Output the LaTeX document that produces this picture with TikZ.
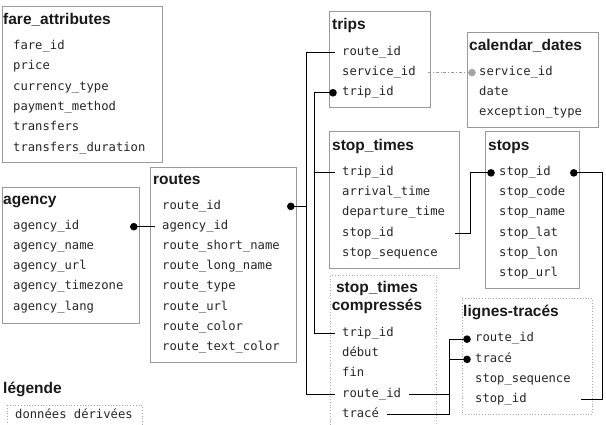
\documentclass[tikz,border=0pt]{standalone}
\usepackage{fontspec}
\setmainfont{Liberation Sans}
\newfontfamily\fieldfont{DejaVu Sans Mono}
\begin{document}
\begin{tikzpicture}[x=1pt,y=-1pt,
  tbl/.style={draw=black!40, line width=0.8pt, anchor=north west, inner sep=0pt},
  derived/.style={draw=black!35, line width=0.8pt, dotted, anchor=north west, inner sep=0pt},
  ttl/.style={anchor=base west, inner sep=0pt, font=\fontsize{15.5}{17}\selectfont\bfseries, text=black!90},
  fld/.style={anchor=base west, inner sep=0pt, font=\fieldfont\fontsize{12.2}{14}\selectfont, text=black!85},
  link/.style={draw=black, line width=0.9pt},
  soft/.style={draw=black!40, line width=0.8pt, dash dot},
  key/.style={fill=black, circle, inner sep=0pt, minimum size=7.6pt},
  softkey/.style={fill=black!35, circle, inner sep=0pt, minimum size=7.6pt}]
\useasboundingbox (0,0) rectangle (606,424);
\begin{scope}
\clip (0,0) rectangle (606,424);

% ---------- tables ----------
\node[tbl, minimum width=160pt, minimum height=156pt] (fare) at (2,6) {};
\node[tbl, minimum width=137pt, minimum height=136pt] (agency) at (2,187) {};
\node[tbl, minimum width=146pt, minimum height=195pt] (routes) at (150,167) {};
\node[tbl, minimum width=101pt, minimum height=96pt] (trips) at (329,11) {};
\node[tbl, minimum width=131pt, minimum height=95pt] (cal) at (467,32) {};
\node[tbl, minimum width=130pt, minimum height=137pt] (st) at (329,131) {};
\node[tbl, minimum width=94pt, minimum height=157pt] (stops) at (485,131) {};
\node[derived, minimum width=106pt, minimum height=160pt] (stc) at (330,275) {};
\node[derived, minimum width=130pt, minimum height=116pt] (lt) at (462,298) {};
\node[derived, minimum width=135pt, minimum height=30pt] (legbox) at (7,405) {};

% ---------- titles ----------
\node[ttl] (fare-t) at (3,24) {fare\_attributes};
\node[ttl] (agency-t) at (3,204) {agency};
\node[ttl] (routes-t) at (153,184) {routes};
\node[ttl] (trips-t) at (332,29) {trips};
\node[ttl] (cal-t) at (469,50) {calendar\_dates};
\node[ttl] (st-t) at (332,150) {stop\_times};
\node[ttl] (stops-t) at (488,150) {stops};
\node[ttl, anchor=base] (stc-t1) at (377,292.5) {stop\_times};
\node[ttl, anchor=base] (stc-t2) at (377,310.7) {compressés};
\node[ttl] (lt-t) at (463,316) {lignes-tracés};
\node[ttl] (leg-t) at (3,393) {légende};

% ---------- fields ----------
\node[fld] (fa1) at (13,49.5) {fare\_id};
\node[fld] (fa2) at (13,69.8) {price};
\node[fld] (fa3) at (13,90.1) {currency\_type};
\node[fld] (fa4) at (13,110.4) {payment\_method};
\node[fld] (fa5) at (13,130.7) {transfers};
\node[fld] (fa6) at (13,151) {transfers\_duration};

\node[fld] (ag1) at (13,229.3) {agency\_id};
\node[fld] (ag2) at (13,249.5) {agency\_name};
\node[fld] (ag3) at (13,269.7) {agency\_url};
\node[fld] (ag4) at (13,289.9) {agency\_timezone};
\node[fld] (ag5) at (13,310.1) {agency\_lang};

\node[fld] (ro1) at (162,209) {route\_id};
\node[fld] (ro2) at (162,229.3) {agency\_id};
\node[fld] (ro3) at (162,249.5) {route\_short\_name};
\node[fld] (ro4) at (162,269.7) {route\_long\_name};
\node[fld] (ro5) at (162,289.9) {route\_type};
\node[fld] (ro6) at (162,310.1) {route\_url};
\node[fld] (ro7) at (162,330.3) {route\_color};
\node[fld] (ro8) at (162,350.5) {route\_text\_color};

\node[fld] (tr1) at (342,55) {route\_id};
\node[fld] (tr2) at (342,75.2) {service\_id};
\node[fld] (tr3) at (342,95.4) {trip\_id};

\node[fld] (ca1) at (479,75.2) {service\_id};
\node[fld] (ca2) at (479,95.4) {date};
\node[fld] (ca3) at (479,115.6) {exception\_type};

\node[fld] (st1) at (342,175.5) {trip\_id};
\node[fld] (st2) at (342,195.7) {arrival\_time};
\node[fld] (st3) at (342,215.9) {departure\_time};
\node[fld] (st4) at (342,236.1) {stop\_id};
\node[fld] (st5) at (342,256.3) {stop\_sequence};

\node[fld] (sp1) at (499,175.5) {stop\_id};
\node[fld] (sp2) at (499,195.7) {stop\_code};
\node[fld] (sp3) at (499,215.9) {stop\_name};
\node[fld] (sp4) at (499,236.1) {stop\_lat};
\node[fld] (sp5) at (499,256.3) {stop\_lon};
\node[fld] (sp6) at (499,276.5) {stop\_url};

\node[fld] (sc1) at (342,336.5) {trip\_id};
\node[fld] (sc2) at (342,356.7) {début};
\node[fld] (sc3) at (342,376.9) {fin};
\node[fld] (sc4) at (342,397.1) {route\_id};
\node[fld] (sc5) at (342,417.3) {tracé};

\node[fld] (lt1) at (475,341.8) {route\_id};
\node[fld] (lt2) at (475,362) {tracé};
\node[fld] (lt3) at (475,382.2) {stop\_sequence};
\node[fld] (lt4) at (475,402.4) {stop\_id};

\node[fld] (leg1) at (15,418) {données dérivées};

% ---------- bus lines ----------
\coordinate (busR) at (306,0);
\coordinate (busT) at (314,0);
\coordinate (busS) at (470,0);
\coordinate (busE) at (602,0);
\coordinate (busL) at (449,0);

% ---------- key dots ----------
\node[key] (k-ag) at ([xshift=-6pt]agency.east |- ag1.mid) {};
\node[key] (k-ro) at ([xshift=-6pt]routes.east |- ro1.mid) {};
\node[key] (k-tr) at ([xshift=-9pt]tr3.mid west) {};
\node[softkey] (k-ca) at ([xshift=-7pt]ca1.mid west) {};
\node[key] (k-sp) at ([xshift=-8pt]sp1.mid west) {};
\node[key] (k-sp2) at ([xshift=-6pt]stops.east |- sp1.mid) {};
\node[key] (k-lt1) at ([xshift=-8pt]lt1.mid west) {};
\node[key] (k-lt2) at ([xshift=-8pt]lt2.mid west) {};

% ---------- links ----------
% agency -> routes
\draw[link] (k-ag.center) -- ([xshift=-7pt]ro2.mid west);
% route_id bus
\draw[link] ([xshift=-7pt]tr1.mid west) -- (tr1.mid -| busR) -- (sc4.mid -| busR) -- ([xshift=-7pt]sc4.mid west);
\draw[link] (k-ro.center) -- (ro1.mid -| busR);
% trip_id bus
\draw[link] (k-tr.center) -- (tr3.mid -| busT) -- (sc1.mid -| busT) -- ([xshift=-7pt]sc1.mid west);
\draw[link] (st1.mid -| busT) -- ([xshift=-7pt]st1.mid west);
% service_id (soft reference)
\draw[soft] ([xshift=12pt]tr2.mid east) -- (k-ca.center);
% stop_times.stop_id -> stops.stop_id
\draw[link] ([xshift=-5pt]st.east |- st4.mid) -- (st4.mid -| busS) -- (sp1.mid -| busS) -- (k-sp.center);
% stops.stop_id -> lignes-tracés.stop_id
\draw[link] (k-sp2.center) -- (sp1.mid -| busE) -- (lt4.mid -| busE) -- ([xshift=-12pt]lt.east |- lt4.mid);
% compressed stop_times -> lignes-tracés
\draw[link] ([xshift=8pt]sc4.mid east) -- (sc4.mid -| busL) -- (lt1.mid -| busL) -- (k-lt1.center);
\draw[link] ([xshift=8pt]sc5.mid east) -- (sc5.mid -| busL) -- (lt2.mid -| busL) -- (k-lt2.center);
\end{scope}
\end{tikzpicture}
\end{document}
